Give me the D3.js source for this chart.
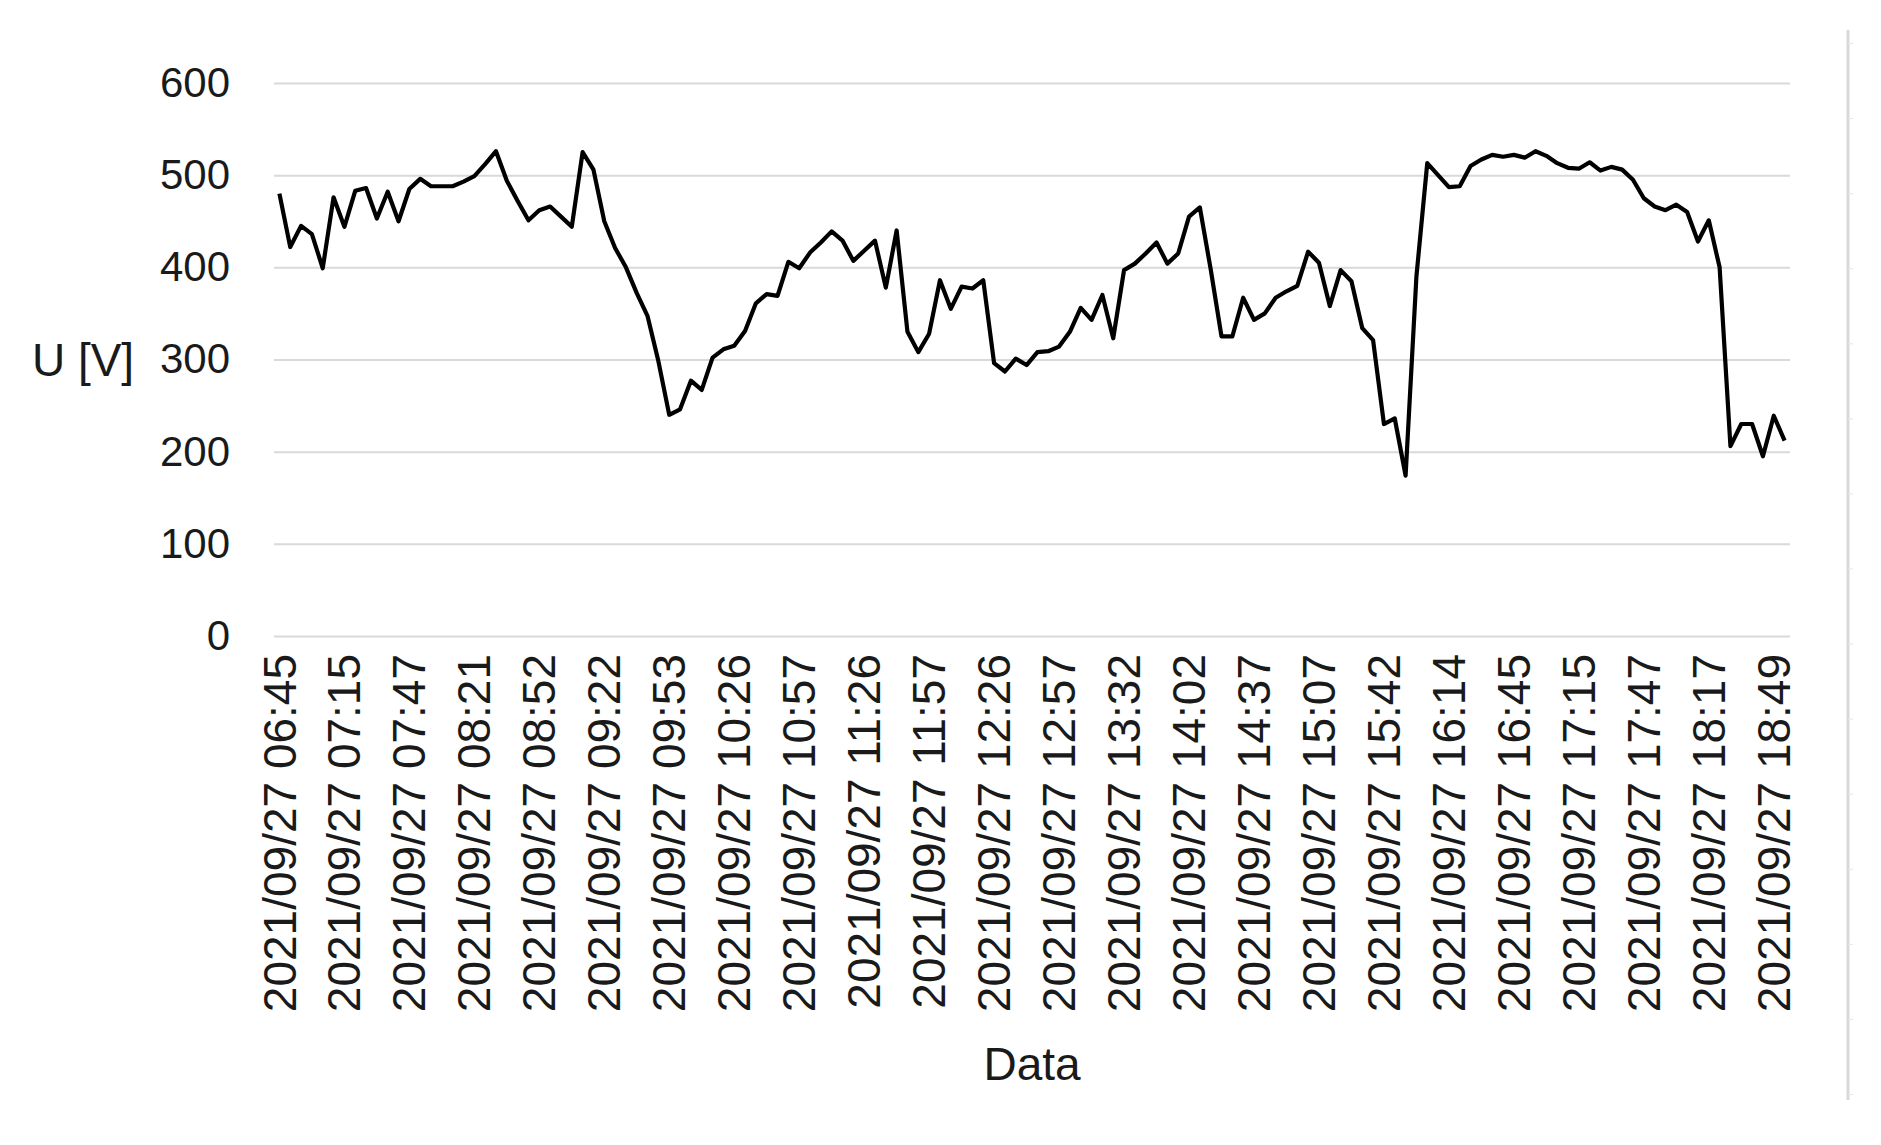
<!DOCTYPE html>
<html>
<head>
<meta charset="utf-8">
<script src="https://cdn.jsdelivr.net/npm/d3@7"></script>
<style>
	body { margin: 0; background: #fff; }
	svg { display: block; }
	svg text { font-family: 'Liberation Sans', Arial, sans-serif; }
</style>
</head>
<body>
<svg></svg>
<script>
'use strict'

// U [V] samples, one per category (~5 min step)
let voltage = [
	480, 422, 445, 436, 399, 476, 444, 483, 486, 453,
	482, 450, 485, 496, 488, 488, 488, 493, 499, 512,
	526, 494, 472, 451, 462, 466, 455, 444, 525, 506,
	450, 421, 400, 372, 347, 298, 240, 246, 277, 267,
	302, 311, 315, 331, 361, 371, 369, 406, 399, 416,
	427, 439, 429, 407, 418, 429, 378, 440, 330, 308,
	328, 386, 355, 379, 377, 386, 296, 287, 301, 294,
	308, 309, 314, 330, 356, 343, 370, 323, 397, 404,
	415, 427, 404, 415, 455, 465, 398, 325, 325, 367,
	343, 350, 367, 374, 380, 417, 405, 358, 397, 385,
	334, 321, 230, 236, 174, 390, 513, 500, 487, 488,
	510, 517, 522, 520, 522, 519, 526, 521, 513, 508,
	507, 514, 505, 509, 506, 495, 475, 466, 462, 468,
	460, 428, 451, 400, 206, 230, 230, 195, 239, 212 ]

// category labels shown, every 6th sample
let tick_every = 6
let tick_labels = [
	'2021/09/27 06:45', '2021/09/27 07:15', '2021/09/27 07:47', '2021/09/27 08:21',
	'2021/09/27 08:52', '2021/09/27 09:22', '2021/09/27 09:53', '2021/09/27 10:26',
	'2021/09/27 10:57', '2021/09/27 11:26', '2021/09/27 11:57', '2021/09/27 12:26',
	'2021/09/27 12:57', '2021/09/27 13:32', '2021/09/27 14:02', '2021/09/27 14:37',
	'2021/09/27 15:07', '2021/09/27 15:42', '2021/09/27 16:14', '2021/09/27 16:45',
	'2021/09/27 17:15', '2021/09/27 17:47', '2021/09/27 18:17', '2021/09/27 18:49' ]
let y_ticks = [0, 100, 200, 300, 400, 500, 600]

let W = 1881, H = 1145,
	plot = {left: 274, right: 1790, top: 83, bottom: 636},
	fs_y = 42, fs_x = 46, fs_title = 46,
	grid_c = '#d9d9d9', text_c = '#1a1a1a'

let svg = d3.select('svg').attr('width', W).attr('height', H)

let x = d3.scaleBand().domain(d3.range(voltage.length)).range([plot.left, plot.right]),
	xc = i => x(i) + x.bandwidth() / 2,
	y = d3.scaleLinear().domain([0, 600]).range([plot.bottom, plot.top])

// grid + y labels
svg.append('g')
	.attr('transform', `translate(${plot.left} 0)`)
	.call(d3.axisLeft(y).tickValues(y_ticks).tickSize(-(plot.right - plot.left)).tickPadding(44))
	.attr('font-family', null)
	.call(s => s.select('.domain').remove())
	.call(s => s.selectAll('.tick line').attr('stroke', grid_c).attr('stroke-width', 2))
	.call(s => s.selectAll('.tick text').attr('fill', text_c).style('font-size', fs_y + 'px'))

// x category labels, rotated
svg.append('g')
	.attr('transform', `translate(0 ${plot.bottom})`)
	.call(d3.axisBottom(x)
		.tickValues(d3.range(0, voltage.length, tick_every))
		.tickFormat(i => tick_labels[i / tick_every]).tickSize(0))
	.attr('font-family', null)
	.call(s => s.select('.domain').remove())
	.call(s => s.selectAll('.tick text')
		.attr('fill', text_c).style('font-size', fs_x + 'px')
		.attr('transform', 'rotate(-90)')
		.attr('x', -18).attr('y', 0).attr('dy', '0.35em')
		.style('text-anchor', 'end'))

// the line
svg.append('path')
	.datum(voltage)
	.attr('fill', 'none').attr('stroke', '#000').attr('stroke-width', 4.2)
	.attr('stroke-linejoin', 'round')
	.attr('d', d3.line().x((d, i) => xc(i)).y(d => y(d)))

// axis titles
svg.append('text')
	.attr('x', 83).attr('y', y(300)).attr('dy', '0.35em')
	.attr('text-anchor', 'middle').attr('fill', text_c).style('font-size', fs_title + 'px')
	.text('U [V]')
svg.append('text')
	.attr('x', (plot.left + plot.right) / 2).attr('y', 1080)
	.attr('text-anchor', 'middle').attr('fill', text_c).style('font-size', fs_title + 'px')
	.text('Data')

// edge of the neighbouring chart, cut off at the right
svg.append('g')
	.attr('transform', 'translate(1848 0)')
	.call(d3.axisRight(d3.scaleLinear().domain([0, 14]).range([1094, 43]))
		.ticks(14).tickFormat('').tickSize(5))
	.call(s => s.select('.domain').attr('stroke', '#d9d9d9').attr('stroke-width', 3)
		.attr('d', 'M0,30V1100'))
	.call(s => s.selectAll('.tick line').attr('stroke', '#e6e6e6'))
</script>
</body>
</html>
